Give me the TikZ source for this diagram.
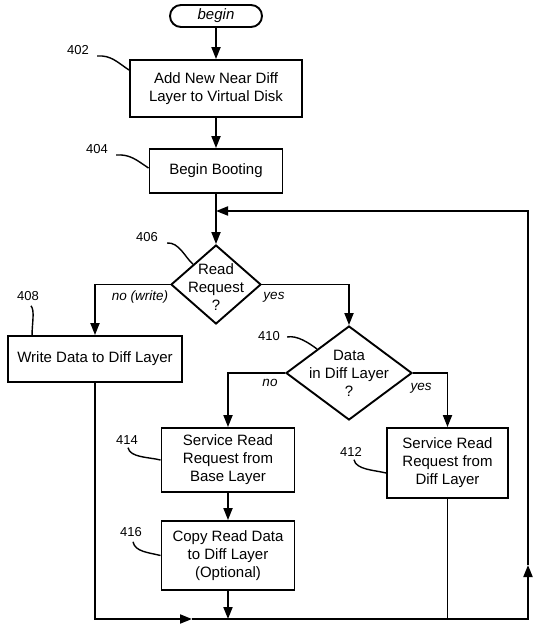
\documentclass[tikz,border=0pt]{standalone}
\usepackage{fontspec}
\setmainfont{Liberation Sans}
\usetikzlibrary{shapes.geometric,arrows.meta}
\tikzset{
  box/.style={draw,line width=1.9pt,align=center,inner sep=0pt,font=\fontsize{15}{18}\selectfont},
  decision/.style={draw,diamond,line width=1.9pt,inner sep=0pt},
  line/.style={line width=1.9pt},
  flow/.style={line width=1.9pt,-{Triangle[length=12pt,width=9pt]}},
  refnum/.style={inner sep=0pt,font=\fontsize{13}{15}\selectfont},
  leader/.style={line width=1.4pt},
  branch/.style={inner sep=0pt,font=\fontsize{13.5}{16}\selectfont\itshape}
}
\begin{document}
\begin{tikzpicture}[x=1pt,y=-1pt]
        \useasboundingbox (0,0) rectangle (550,627);
        % Steps
        \node[box,rounded corners=11pt,minimum width=92pt,minimum height=22pt,font=\fontsize{15}{18}\selectfont\itshape] (begin) at (216,16) {begin};
        \node[box,minimum width=172pt,minimum height=57pt] (n402) at (216,88.5) {Add New Near Diff\\Layer to Virtual Disk};
        \node[box,minimum width=133pt,minimum height=44pt] (n404) at (216,171) {Begin Booting};
        \node[decision,minimum width=90pt,minimum height=79pt,
              label={[align=center,yshift=-3pt,font=\fontsize{15}{18}\selectfont]center:Read\\Request\\?}] (d406) at (216,284.5) {};
        \node[box,minimum width=174pt,minimum height=46pt] (n408) at (95,359) {Write Data to Diff Layer};
        \node[decision,minimum width=126pt,minimum height=94pt,
              label={[align=center,font=\fontsize{15}{18}\selectfont]center:Data\\in Diff Layer\\?}] (d410) at (349,373) {};
        \node[box,minimum width=133pt,minimum height=64pt] (n414) at (228,460) {Service Read\\Request from\\Base Layer};
        \node[box,minimum width=133pt,minimum height=69pt] (n416) at (228,555.5) {Copy Read Data\\to Diff Layer\\(Optional)};
        \node[box,minimum width=121pt,minimum height=70pt] (n412) at (447.5,463) {Service Read\\Request from\\Diff Layer};
        % Reference numerals
        \node[refnum] (l402) at (78,50) {402};
        \node[refnum] (l404) at (97,149) {404};
        \node[refnum] (l406) at (147,237) {406};
        \node[refnum] (l408) at (28,296) {408};
        \node[refnum] (l410) at (269,336) {410};
        \node[refnum] (l414) at (127,440) {414};
        \node[refnum] (l416) at (131,532) {416};
        \node[refnum] (l412) at (351,452) {412};
        % Branch labels
        \node[branch] (tw) at (140,297) {no (write)};
        \node[branch] (ty1) at (274,297) {yes};
        \node[branch] (tn) at (270,383) {no};
        \node[branch] (ty2) at (421,388) {yes};
        % Loop corners
        \coordinate (back) at (216,211);
        \coordinate (lowarrow) at (192,619);
        \coordinate (corner) at (528,619);
        \coordinate (uparrow) at (528,565);
        % Flow
        \draw[flow] (begin) -- (n402);
        \draw[flow] (n402) -- (n404);
        \draw[flow] (n404) -- (d406);
        \draw[flow] (d406.west) -| (n408.north);
        \draw[flow] (d406.east) -| (d410.north);
        \draw[flow] (d410.west) -| (n414.north);
        \draw[flow] (d410.east) -| (n412.north);
        \draw[flow] (n414) -- (n416);
        \draw[flow] (n416.south) -- (n416.south |- corner);
        \draw[line] (n412.south) -- (n412.south |- corner);
        % Return path
        \draw[flow] (n408.south) |- (lowarrow);
        \draw[flow] (lowarrow) -- (corner) -- (uparrow);
        \draw[flow] (uparrow) |- (back);
        % Leaders
        \draw[leader] ([xshift=8pt,yshift=-6pt]l402.east) .. controls +(14,-1) and +(-12,-8) .. ([yshift=-11pt]n402.north west);
        \draw[leader] ([xshift=8pt,yshift=-6pt]l404.east) .. controls +(14,-1) and +(-12,-8) .. ([yshift=-20pt]n404.north west);
        \draw[leader] ([xshift=9pt,yshift=-6pt]l406.east) .. controls +(12,-1) and +(-8,-7) .. (d406.north west);
        \draw[leader] ([xshift=3pt,yshift=-5pt]l408.south) .. controls +(4,5) and +(0,-12) .. ([xshift=25pt]n408.north west);
        \draw[leader] ([xshift=7pt,yshift=-1pt]l410.east) .. controls +(10,-2) and +(-8,-6) .. (d410.north west);
        \draw[leader] ([xshift=1pt,yshift=-3pt]l414.south) .. controls +(2,10) and +(-12,-3) .. (n414.west);
        \draw[leader] ([xshift=2pt,yshift=-5pt]l416.south) .. controls +(2,10) and +(-12,-3) .. (n416.west);
        \draw[leader] ([xshift=3pt,yshift=-3pt]l412.south) .. controls +(2,10) and +(-12,-3) .. ([yshift=-10pt]n412.west);
    \end{tikzpicture}
\end{document}
